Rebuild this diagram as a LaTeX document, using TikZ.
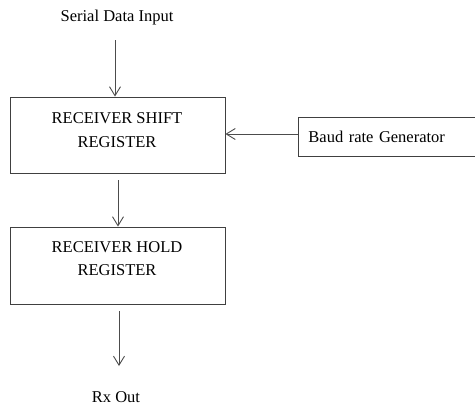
\documentclass[tikz,border=0pt]{standalone}
\usepackage{fontspec}
\setmainfont{Liberation Serif}
\usetikzlibrary{arrows.meta}
\begin{document}
\begin{tikzpicture}[x=1pt,y=-1pt,
  every node/.style={font=\fontsize{16.5}{23.5}\selectfont, text=black},
  blk/.style={draw=black!75, line width=0.9pt, minimum width=215pt, inner sep=0pt},
  lbl/.style={align=center, inner sep=0pt},
  arr/.style={draw=black!70, line width=0.9pt, -{Straight Barb[length=9pt,width=11pt]}}]
\useasboundingbox (0,0) rectangle (475,407);
\node[lbl] (sdi) at (117,18) {Serial Data Input};
\node[blk, minimum height=76pt] (box1) at (117.5,135) {};
\node[lbl] (box1t) at (117,130) {RECEIVER SHIFT\\REGISTER};
\node[blk, minimum height=77pt] (box2) at (117.5,265.5) {};
\node[lbl] (box2t) at (117,258.5) {RECEIVER HOLD\\REGISTER};
\node[draw=black!75, line width=0.9pt, anchor=west, minimum height=39pt, text width=170pt, inner xsep=10pt, inner ysep=0pt, align=left] (baud) at (298,136.5) {Baud rate Generator};
\node[lbl] (rx) at (116,397) {Rx Out};
\coordinate (a1s) at (115,40);
\draw[arr] (a1s) -- (a1s |- box1.north);
\coordinate (a2s) at (118,180);
\draw[arr] (a2s) -- (a2s |- box2.north);
\coordinate (a3s) at (119,311);
\coordinate (a3e) at (119,366);
\draw[arr] (a3s) -- (a3e);
\coordinate (bs) at (298,134);
\draw[arr] (bs) -- (bs -| box1.east);
\end{tikzpicture}
\end{document}
